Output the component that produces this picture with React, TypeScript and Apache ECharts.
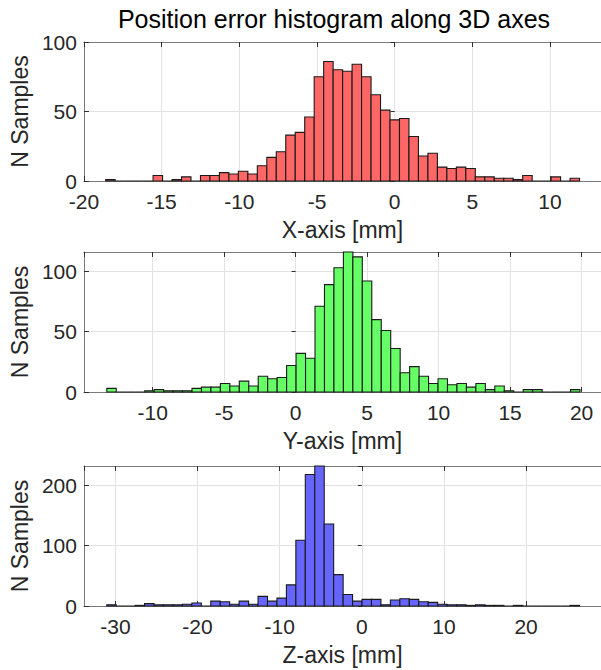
import React, { useEffect, useRef } from "react";
import * as echarts from "echarts";

// Histogram counts per bin (50 bins each)
const xCounts = [1, 0, 0, 0, 0, 4, 0, 1, 3, 0, 4, 4, 6, 5, 7, 5, 11, 17, 21, 33, 35, 46, 75, 86, 80, 79, 84, 75, 62, 51, 44, 45, 32, 18, 20, 10, 9, 10, 9, 3, 3, 2, 2, 1, 4, 0, 0, 3, 0, 2];
const yCounts = [3, 0, 0, 0, 1, 2, 1, 1, 1, 3, 4, 4, 7, 5, 9, 5, 13, 11, 12, 22, 32, 28, 71, 89, 103, 116, 112, 92, 60, 51, 36, 16, 21, 13, 7, 11, 6, 7, 4, 7, 2, 5, 1, 0, 2, 2, 0, 0, 0, 2];
const zCounts = [2, 0, 0, 1, 4, 2, 2, 2, 3, 5, 0, 8, 7, 3, 8, 3, 16, 8, 13, 35, 109, 218, 232, 136, 52, 19, 8, 11, 11, 2, 10, 12, 11, 7, 6, 3, 2, 2, 1, 2, 1, 1, 0, 1, 0, 0, 0, 0, 0, 1];

// Bin layout (first edge, width)
const xBinStart = -18.6;
const xBinWidth = 0.61;
const yBinStart = -13.21;
const yBinWidth = 0.662;
const zBinStart = -31.05;
const zBinWidth = 1.151;

// Axis ranges
const xRange = [-20, 13.28];
const yRange = [-14.81, 21.36];
const zRange = [-33.83, 29.12];
const xTickStep = 5;
const yTickStep = 5;
const zTickStep = 10;
const countMax = [100, 116, 232];
const countStep = [50, 50, 100];

const axisNames = ["X-axis [mm]", "Y-axis [mm]", "Z-axis [mm]"];
const yName = "N Samples";
const titleText = "Position error histogram along 3D axes";
const fills = ["#ff6666", "#66ff66", "#6666ff"];

const FONT = "'Liberation Sans', Arial, Helvetica, sans-serif";

export default function App() {
  const ref = useRef<HTMLDivElement>(null);
  useEffect(() => {
    if (!ref.current) return;
    const chart = echarts.init(ref.current, undefined, { renderer: "svg" });

    const grids = [
      { left: 80, right: 0, top: 42, height: 139 },
      { left: 79.5, right: 0, top: 252, height: 140 },
      { left: 79.5, right: 0, top: 466, height: 140 },
    ];
    const ranges = [xRange, yRange, zRange];
    const steps = [xTickStep, yTickStep, zTickStep];
    const counts = [xCounts, yCounts, zCounts];
    const starts = [xBinStart, yBinStart, zBinStart];
    const widths = [xBinWidth, yBinWidth, zBinWidth];

    const axisLineColor = "#7a7a7a";
    const tickColor = "#303030";
    const textColor = "#262626";

    const xAxes: any[] = [];
    const yAxes: any[] = [];
    const series: any[] = [];

    for (let i = 0; i < 3; i++) {
      const [mn, mx] = ranges[i];
      const alignedMin = Math.abs(mn / steps[i] - Math.round(mn / steps[i])) < 1e-9;
      xAxes.push({
        type: "value",
        gridIndex: i,
        min: mn,
        max: mx,
        splitNumber: 6,
        minInterval: steps[i],
        maxInterval: steps[i],
        axisLine: { show: true, onZero: false, lineStyle: { color: axisLineColor, width: 1 } },
        axisTick: { show: true, inside: true, length: 5, lineStyle: { color: tickColor } },
        axisLabel: {
          fontSize: 21,
          color: textColor,
          margin: 10,
          fontFamily: FONT,
          showMinLabel: alignedMin,
          showMaxLabel: false,
        },
        splitLine: { show: true, lineStyle: { color: "#e2e2e2", width: 1 } },
        name: axisNames[i],
        nameLocation: "middle",
        nameGap: 37,
        nameTextStyle: { fontSize: 23, color: textColor, fontFamily: FONT },
      });
      xAxes.push({
        type: "value",
        gridIndex: i,
        position: "top",
        min: mn,
        max: mx,
        splitNumber: 6,
        minInterval: steps[i],
        maxInterval: steps[i],
        axisLine: { show: true, onZero: false, lineStyle: { color: axisLineColor, width: 1 } },
        axisTick: { show: true, inside: true, length: 5, lineStyle: { color: tickColor } },
        axisLabel: { show: false },
        splitLine: { show: false },
      });
      yAxes.push({
        type: "value",
        gridIndex: i,
        min: 0,
        max: countMax[i],
        interval: countStep[i],
        axisLine: { show: true, onZero: false, lineStyle: { color: axisLineColor, width: 1 } },
        axisTick: { show: true, inside: true, length: 5, lineStyle: { color: tickColor } },
        axisLabel: {
          fontSize: 21,
          color: textColor,
          margin: 7,
          fontFamily: FONT,
          showMaxLabel: countMax[i] % countStep[i] === 0,
        },
        splitLine: { show: true, lineStyle: { color: "#e2e2e2", width: 1 } },
        name: yName,
        nameLocation: "middle",
        nameRotate: 90,
        nameGap: 45,
        nameTextStyle: { fontSize: 23, color: textColor, fontFamily: FONT },
      });
      yAxes.push({
        type: "value",
        gridIndex: i,
        position: "right",
        min: 0,
        max: countMax[i],
        interval: countStep[i],
        axisLine: { show: false },
        axisTick: { show: true, inside: true, length: 4, lineStyle: { color: tickColor } },
        axisLabel: { show: false },
        splitLine: { show: false },
      });

      const fill = fills[i];
      const data = counts[i].map((c, k) => [starts[i] + k * widths[i], starts[i] + (k + 1) * widths[i], c]);
      series.push({
        type: "custom",
        xAxisIndex: 2 * i,
        yAxisIndex: 2 * i,
        data,
        encode: { x: [0, 1], y: 2 },
        renderItem: (params: any, api: any) => {
          const x0 = api.value(0);
          const x1 = api.value(1);
          const c = api.value(2);
          const p0 = api.coord([x0, c]);
          const p1 = api.coord([x1, 0]);
          return {
            type: "rect",
            shape: { x: p0[0], y: p0[1], width: p1[0] - p0[0], height: p1[1] - p0[1] },
            style: { fill, stroke: "#1a1a1a", lineWidth: 1.1 },
          };
        },
      });
    }

    chart.setOption({
      animation: false,
      backgroundColor: "#ffffff",
      textStyle: { fontFamily: FONT },
      grid: grids,
      xAxis: xAxes,
      yAxis: yAxes,
      series,
      graphic: [
        {
          type: "text",
          x: 334,
          y: 19,
          style: {
            text: titleText,
            fontSize: 25,
            fontFamily: FONT,
            fill: "#000000",
            textAlign: "center",
            textVerticalAlign: "middle",
          },
        },
      ],
    });
    return () => chart.dispose();
  }, []);
  return <div ref={ref} style={{ position: "absolute", left: 0, top: 0, width: 601, height: 670 }} />;
}
